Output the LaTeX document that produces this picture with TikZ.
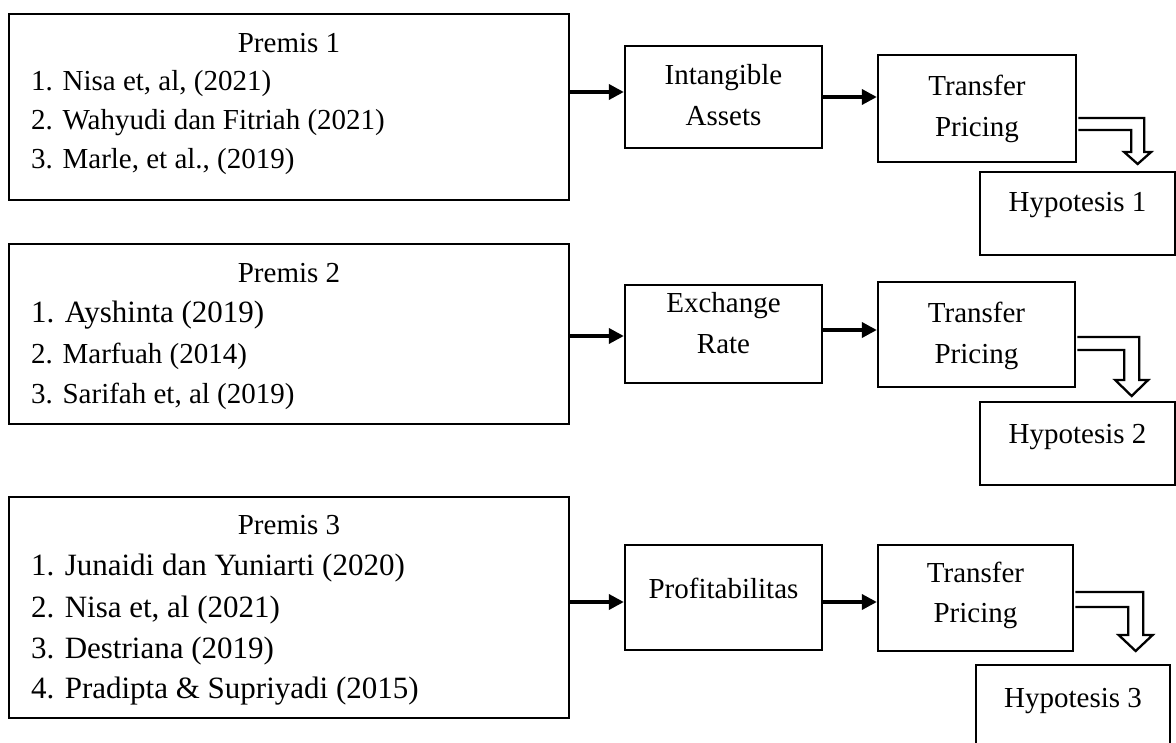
\documentclass[tikz,border=0pt]{standalone}
\usepackage{fontspec}
\setmainfont{Liberation Serif}
\usetikzlibrary{arrows.meta}
\begin{document}
\begin{tikzpicture}[x=1pt,y=-1pt,
  box/.style={draw, line width=2.3pt, inner sep=0pt},
  txt/.style={anchor=base, inner sep=0pt, font=\fontsize{29}{35}\selectfont},
  itm/.style={anchor=base west, inner sep=0pt, font=\fontsize{29}{35}\selectfont},
  bigitm/.style={anchor=base west, inner sep=0pt, font=\fontsize{31}{37}\selectfont},
  arr/.style={line width=3.6pt, -{Triangle[length=15pt,width=15pt]}},
  hol/.style={draw, line width=2.3pt, fill=white, line join=miter}]
\useasboundingbox (0,0) rectangle (1176,743);
\clip (0,0) rectangle (1176,743);

% level coordinates
\coordinate (y1a) at (0,92);
\coordinate (y1b) at (0,97);
\coordinate (y2a) at (0,336);
\coordinate (y2b) at (0,330);
\coordinate (y3a) at (0,602);
\coordinate (y3b) at (0,602);
\coordinate (h1y) at (0,118);
\coordinate (h2y) at (0,337);
\coordinate (h3y) at (0,592);

% boxes
\node[box, minimum width=560pt, minimum height=186pt] (p1) at (289,107) {};
\node[box, minimum width=560pt, minimum height=180pt] (p2) at (289,334) {};
\node[box, minimum width=560pt, minimum height=221pt] (p3) at (289,607.5) {};
\node[box, minimum width=197pt, minimum height=102pt] (ia) at (723.5,97) {};
\node[box, minimum width=197pt, minimum height=98pt] (er) at (723.5,334) {};
\node[box, minimum width=197pt, minimum height=105pt] (pr) at (723.5,597.5) {};
\node[box, minimum width=198pt, minimum height=107pt] (tp1) at (977,108.5) {};
\node[box, minimum width=197pt, minimum height=105pt] (tp2) at (976.5,334.5) {};
\node[box, minimum width=195pt, minimum height=106pt] (tp3) at (975.5,598) {};
\node[box, minimum width=195pt, minimum height=83pt] (h1) at (1077.5,213.5) {};
\node[box, minimum width=195pt, minimum height=83pt] (h2) at (1077.5,443.5) {};
\node[box, minimum width=194pt, minimum height=95pt] (h3) at (1073,712.5) {};

% texts
\node[txt] (p1h) at (289,53) {Premis 1};
\node[itm] (p1a) at (31,91) {1. Nisa et, al, (2021)};
\node[itm] (p1b) at (31,130) {2. Wahyudi dan Fitriah (2021)};
\node[itm] (p1c) at (31,169) {3. Marle, et al., (2019)};

\node[txt] (p2h) at (289,283) {Premis 2};
\node[bigitm] (p2a) at (31,323) {1. Ayshinta (2019)};
\node[itm] (p2b) at (31,363) {2. Marfuah (2014)};
\node[itm] (p2c) at (31,403) {3. Sarifah et, al (2019)};

\node[txt] (p3h) at (289,534) {Premis 3};
\node[bigitm] (p3a) at (31,575) {1. Junaidi dan Yuniarti (2020)};
\node[bigitm] (p3b) at (31,617) {2. Nisa et, al (2021)};
\node[bigitm] (p3c) at (31,658) {3. Destriana (2019)};
\node[bigitm] (p3d) at (31,698) {4. Pradipta \& Supriyadi (2015)};

\node[txt] (iat) at (723.5,85) {Intangible};
\node[txt] (iab) at (723.5,126) {Assets};
\node[txt] (ert) at (723.5,313) {Exchange};
\node[txt] (erb) at (723.5,354) {Rate};
\node[txt] (prt) at (723.5,598) {Profitabilitas};

\node[txt] (tp1t) at (977,96) {Transfer};
\node[txt] (tp1b) at (977,137) {Pricing};
\node[txt] (tp2t) at (976.5,323) {Transfer};
\node[txt] (tp2b) at (976.5,364) {Pricing};
\node[txt] (tp3t) at (975.5,582) {Transfer};
\node[txt] (tp3b) at (975.5,622) {Pricing};

\node[txt] (h1t) at (1077.5,212) {Hypotesis 1};
\node[txt] (h2t) at (1077.5,443) {Hypotesis 2};
\node[txt] (h3t) at (1073,707) {Hypotesis 3};

% arrows
\draw[arr] (p1.east |- y1a) -- (ia.west |- y1a);
\draw[arr] (ia.east |- y1b) -- (tp1.west |- y1b);
\draw[arr] (p2.east |- y2a) -- (er.west |- y2a);
\draw[arr] (er.east |- y2b) -- (tp2.west |- y2b);
\draw[arr] (p3.east |- y3a) -- (pr.west |- y3a);
\draw[arr] (pr.east |- y3b) -- (tp3.west |- y3b);

% hollow bent arrows
\draw[hol] ([xshift=1.15pt]tp1.east |- h1y) -- ++(65.85,0) -- ++(0,34) -- ++(7,0) -- ++(-13.5,12)
  -- ++(-13.5,-12) -- ++(7,0) -- ++(0,-22) -- ++(-52.85,0);
\draw[hol] ([xshift=1.15pt]tp2.east |- h2y) -- ++(61.85,0) -- ++(0,43) -- ++(9,0) -- ++(-16.5,16)
  -- ++(-16.5,-16) -- ++(9,0) -- ++(0,-30) -- ++(-46.85,0);
\draw[hol] ([xshift=1.15pt]tp3.east |- h3y) -- ++(67.85,0) -- ++(0,43) -- ++(9.5,0) -- ++(-17,16)
  -- ++(-17,-16) -- ++(9.5,0) -- ++(0,-28) -- ++(-52.85,0);
\end{tikzpicture}
\end{document}
